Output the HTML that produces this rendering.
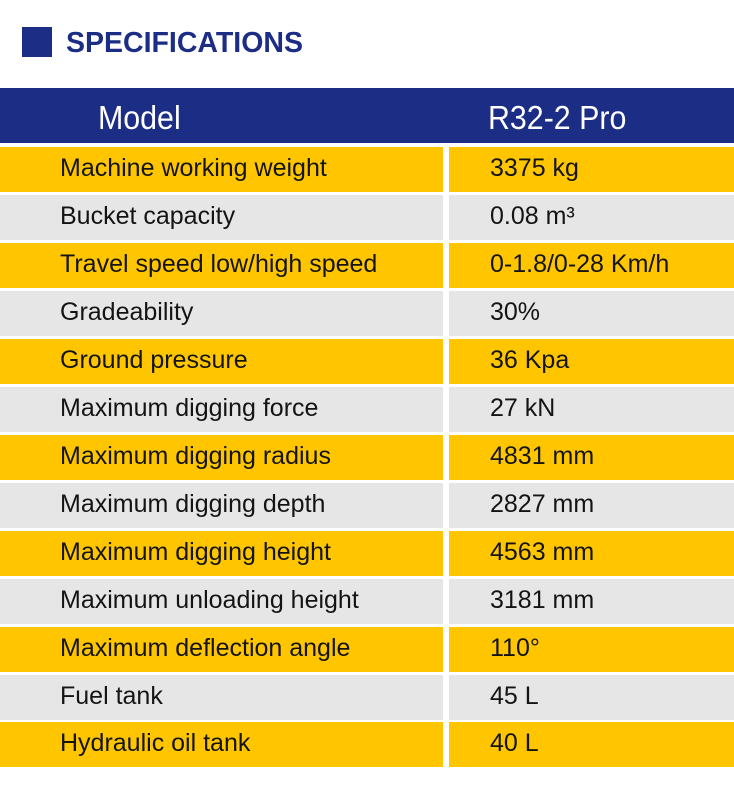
<!DOCTYPE html>
<html>
<head>
<meta charset="utf-8">
<style>
  html, body { margin:0; padding:0; }
  body { width:734px; height:800px; background:#ffffff; position:relative; overflow:hidden; font-family:"Liberation Sans", Arial, sans-serif; }
  .sq { position:absolute; left:22px; top:27px; width:30px; height:30px; background:#1b2d84; }
  .title { position:absolute; left:66px; top:27.4px; line-height:32px; font-size:28.5px; font-weight:bold; color:#1b2d84; white-space:nowrap; }
  .hdr { position:absolute; left:0; top:88px; width:734px; height:54.5px; background:#1b2d84; }
  .ht { position:absolute; top:90.5px; line-height:54.5px; font-size:33px; color:#ffffff; white-space:nowrap; transform:scaleX(0.92); transform-origin:left center; }
  .cl { position:absolute; left:0; width:443px; height:45px; }
  .cr { position:absolute; left:449px; width:285px; height:45px; }
  .y { background:#ffc600; }
  .g { background:#e6e6e6; }
  .t { position:absolute; line-height:45px; font-size:25px; color:#141414; white-space:nowrap; margin-top:-1px; }
  .tl { left:60px; }
  .tr { left:490px; }
</style>
</head>
<body>
<div class="sq"></div>
<div class="title">SPECIFICATIONS</div>

<div class="hdr"></div>
<div class="ht" style="left:98px;">Model</div>
<div class="ht" style="left:488px;">R32-2 Pro</div>

<!-- rows: top = 146.5 + 48*i -->
<div class="cl y" style="top:146.5px"></div><div class="cr y" style="top:146.5px"></div>
<div class="t tl" style="top:146.5px">Machine working weight</div><div class="t tr" style="top:146.5px">3375 kg</div>

<div class="cl g" style="top:194.5px"></div><div class="cr g" style="top:194.5px"></div>
<div class="t tl" style="top:194.5px">Bucket capacity</div><div class="t tr" style="top:194.5px">0.08 m³</div>

<div class="cl y" style="top:242.5px"></div><div class="cr y" style="top:242.5px"></div>
<div class="t tl" style="top:242.5px">Travel speed low/high speed</div><div class="t tr" style="top:242.5px">0-1.8/0-28 Km/h</div>

<div class="cl g" style="top:290.5px"></div><div class="cr g" style="top:290.5px"></div>
<div class="t tl" style="top:290.5px">Gradeability</div><div class="t tr" style="top:290.5px">30%</div>

<div class="cl y" style="top:338.5px"></div><div class="cr y" style="top:338.5px"></div>
<div class="t tl" style="top:338.5px">Ground pressure</div><div class="t tr" style="top:338.5px">36 Kpa</div>

<div class="cl g" style="top:386.5px"></div><div class="cr g" style="top:386.5px"></div>
<div class="t tl" style="top:386.5px">Maximum digging force</div><div class="t tr" style="top:386.5px">27 kN</div>

<div class="cl y" style="top:434.5px"></div><div class="cr y" style="top:434.5px"></div>
<div class="t tl" style="top:434.5px">Maximum digging radius</div><div class="t tr" style="top:434.5px">4831 mm</div>

<div class="cl g" style="top:482.5px"></div><div class="cr g" style="top:482.5px"></div>
<div class="t tl" style="top:482.5px">Maximum digging depth</div><div class="t tr" style="top:482.5px">2827 mm</div>

<div class="cl y" style="top:530.5px"></div><div class="cr y" style="top:530.5px"></div>
<div class="t tl" style="top:530.5px">Maximum digging height</div><div class="t tr" style="top:530.5px">4563 mm</div>

<div class="cl g" style="top:578.5px"></div><div class="cr g" style="top:578.5px"></div>
<div class="t tl" style="top:578.5px">Maximum unloading height</div><div class="t tr" style="top:578.5px">3181 mm</div>

<div class="cl y" style="top:626.5px"></div><div class="cr y" style="top:626.5px"></div>
<div class="t tl" style="top:626.5px">Maximum deflection angle</div><div class="t tr" style="top:626.5px">110°</div>

<div class="cl g" style="top:674.5px"></div><div class="cr g" style="top:674.5px"></div>
<div class="t tl" style="top:674.5px">Fuel tank</div><div class="t tr" style="top:674.5px">45 L</div>

<div class="cl y" style="top:722px"></div><div class="cr y" style="top:722px"></div>
<div class="t tl" style="top:722px">Hydraulic oil tank</div><div class="t tr" style="top:722px">40 L</div>
</body>
</html>
